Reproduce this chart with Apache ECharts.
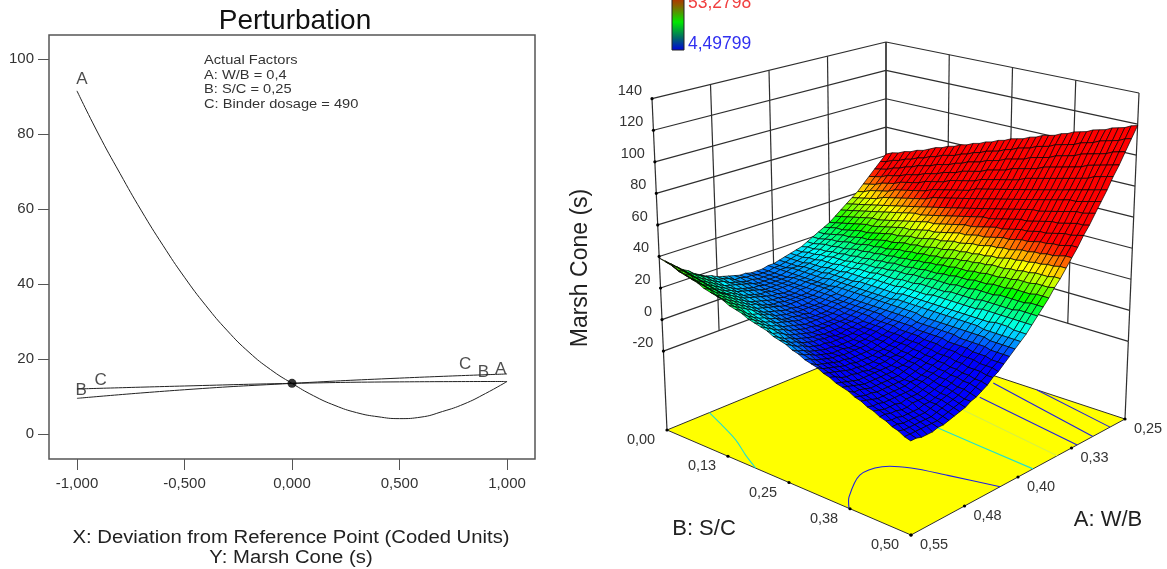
<!DOCTYPE html>
<html><head><meta charset="utf-8"><style>html,body{margin:0;background:#fff}#c{width:1167px;height:569px}</style>
<script src="https://cdn.jsdelivr.net/npm/echarts@6/dist/echarts.min.js"></script></head><body><div id="c"></div><script>
// ---------- left panel: perturbation curves ----------
const deviationA=[-1,-.9,-.8,-.7,-.6,-.5,-.4,-.3,-.2,-.1,0,.1,.2,.3,.4,.5,.6,.7,.8,.9,1];
const coneA=[91.5,80,69.5,59.5,50.3,41.8,34.2,27.5,21.8,17.2,13.5,10.2,7.6,5.7,4.6,4.1,4.5,6,8,10.8,14];
const deviationBC=[-1,-.5,0,.5,1];
const coneB=[12,12.8,13.5,13.9,14];
const coneC=[9.5,11.8,13.5,14.9,16];
const referencePoint=[0,13.5];
const curveLabels=[[-.977,94.7,'A'],[.97,17.3,'A'],[-.98,11.7,'B'],[.89,16.5,'B'],[-.89,14.4,'C'],[.805,18.7,'C']];
const xTicks=[-1,-.5,0,.5,1];
const yTicks=[0,20,40,60,80,100];
const factorLines=['Actual Factors','A: W/B = 0,4','B: S/C = 0,25','C: Binder dosage = 490'];
// ---------- right panel: response surface ----------
const wbTicks=[.25,.325,.4,.475,.55];
const wbTickLabels=['0,25','0,33','0,40','0,48','0,55'];
const scTicks=[0,.125,.25,.375,.5];
const scTickLabels=['0,00','0,13','0,25','0,38','0,50'];
const coneTicks=[-20,0,20,40,60,80,100,120,140];
const floorLevel=-70;
const colorMin=4.49799, colorMax=53.2798;
// columns: W/B .25 to .55 in 40 steps; rows: S/C 0 to .5 in 40 steps
const surfaceRows=[
[61,57,53,49,45,41,38,35,32,29,26,24,22,20,18,16,15,14,13,12,11,11,10,10,10,11,11,12,13,14,15,17,18,20,22,25,27,30,33,36,39],
[63,58,54,50,46,42,39,36,33,30,27,25,22,20,18,17,15,14,13,12,11,11,10,10,10,11,11,12,12,14,15,16,18,20,22,24,26,29,32,35,38],
[64,60,55,51,47,44,40,37,34,31,28,26,23,21,19,17,16,14,13,12,11,11,10,10,10,10,11,11,12,13,14,16,17,19,21,23,25,28,31,33,37],
[66,61,57,53,49,45,41,38,35,32,29,26,24,22,20,18,16,15,13,12,12,11,10,10,10,10,10,11,12,13,14,15,16,18,20,22,24,27,30,32,35],
[67,63,58,54,50,46,42,39,36,33,30,27,25,22,20,18,17,15,14,13,12,11,10,10,10,10,10,11,11,12,13,14,16,17,19,21,23,26,28,31,34],
[69,64,60,55,51,47,44,40,37,34,31,28,25,23,21,19,17,16,14,13,12,11,11,10,10,10,10,10,11,12,13,14,15,17,18,20,22,25,27,30,33],
[70,66,61,57,53,49,45,41,38,35,32,29,26,24,21,19,18,16,14,13,12,11,11,10,10,10,10,10,11,11,12,13,14,16,18,19,21,24,26,29,32],
[72,67,63,58,54,50,46,42,39,35,32,29,27,24,22,20,18,16,15,13,12,11,11,10,10,9,9,10,10,11,12,13,14,15,17,19,21,23,25,28,30],
[74,69,64,59,55,51,47,43,40,36,33,30,27,25,23,20,18,17,15,14,12,11,11,10,10,9,9,9,10,10,11,12,13,14,16,18,20,22,24,26,29],
[75,70,65,61,56,52,48,44,41,37,34,31,28,26,23,21,19,17,15,14,13,11,11,10,9,9,9,9,9,10,10,11,12,14,15,17,19,21,23,25,28],
[77,72,67,62,58,53,49,45,42,38,35,32,29,26,24,21,19,17,16,14,13,11,11,10,9,9,9,9,9,9,10,11,12,13,14,16,18,20,22,24,27],
[78,73,68,63,59,54,50,46,43,39,36,33,30,27,24,22,20,18,16,14,13,12,11,10,9,9,8,8,8,9,9,10,11,12,13,15,17,19,21,23,25],
[80,74,69,65,60,56,51,47,44,40,37,33,30,27,25,22,20,18,16,14,13,12,10,10,9,8,8,8,8,8,9,9,10,11,13,14,16,17,19,22,24],
[81,76,71,66,61,57,53,48,44,41,37,34,31,28,25,23,20,18,16,15,13,12,10,9,9,8,8,8,7,8,8,9,9,10,12,13,15,16,18,20,23],
[83,77,72,67,63,58,54,49,45,42,38,35,32,29,26,23,21,19,17,15,13,12,10,9,9,8,7,7,7,7,8,8,9,10,11,12,14,15,17,19,21],
[84,79,74,69,64,59,55,50,46,43,39,35,32,29,26,24,21,19,17,15,13,12,10,9,8,8,7,7,7,7,7,7,8,9,10,11,13,14,16,18,20],
[86,80,75,70,65,60,56,51,47,43,40,36,33,30,27,24,22,19,17,15,13,12,10,9,8,7,7,6,6,6,6,7,7,8,9,10,12,13,15,17,19],
[87,82,76,71,66,61,57,52,48,44,40,37,33,30,27,24,22,19,17,15,13,12,10,9,8,7,6,6,6,6,6,6,6,7,8,9,10,12,14,15,18],
[89,83,78,72,67,62,58,53,49,45,41,38,34,31,28,25,22,20,17,15,13,12,10,9,8,7,6,6,5,5,5,5,6,6,7,8,9,11,12,14,16],
[90,84,79,74,69,64,59,54,50,46,42,38,35,31,28,25,23,20,18,15,13,12,10,9,8,6,6,5,5,4,4,5,5,6,6,7,8,10,11,13,15],
[92,86,80,75,70,65,60,55,51,47,43,39,35,32,29,26,23,20,18,16,14,12,10,9,7,6,5,5,4,4,4,4,4,5,5,6,7,9,10,12,14],
[93,87,82,76,71,66,61,56,52,48,44,40,36,32,29,26,23,21,18,16,14,12,10,8,7,6,5,4,4,3,3,3,3,4,4,5,6,7,9,10,12],
[94,89,83,77,72,67,62,57,53,48,44,40,37,33,30,26,24,21,18,16,14,12,10,8,7,6,5,4,3,3,2,2,3,3,3,4,5,6,8,9,11],
[96,90,84,79,73,68,63,58,54,49,45,41,37,34,30,27,24,21,18,16,14,12,10,8,7,5,4,3,3,2,2,2,2,2,3,3,4,5,6,8,9],
[97,91,85,80,74,69,64,59,54,50,46,42,38,34,31,27,24,21,19,16,14,12,10,8,6,5,4,3,2,1,1,1,1,1,2,2,3,4,5,6,8],
[99,93,87,81,75,70,65,60,55,51,46,42,38,35,31,28,24,21,19,16,14,11,9,8,6,5,3,2,1,1,0,0,0,0,1,1,2,3,4,5,7],
[100,94,88,82,77,71,66,61,56,52,47,43,39,35,31,28,25,22,19,16,14,11,9,7,6,4,3,2,1,0,0,-1,-1,-1,0,0,1,2,3,4,5],
[101,95,89,83,78,72,67,62,57,52,48,44,39,36,32,28,25,22,19,16,14,11,9,7,6,4,3,1,0,0,-1,-1,-2,-2,-1,-1,0,0,1,3,4],
[103,97,90,85,79,73,68,63,58,53,49,44,40,36,32,29,25,22,19,16,14,11,9,7,5,4,2,1,0,-1,-2,-2,-2,-2,-2,-2,-2,-1,0,1,2],
[104,98,92,86,80,74,69,64,59,54,49,45,40,37,33,29,26,22,19,16,14,11,9,7,5,3,2,0,-1,-2,-2,-3,-3,-3,-3,-3,-3,-2,-1,0,1],
[106,99,93,87,81,75,70,65,59,55,50,45,41,37,33,29,26,22,19,16,14,11,9,7,5,3,1,0,-1,-2,-3,-4,-4,-4,-4,-4,-4,-3,-2,-2,0],
[107,100,94,88,82,76,71,65,60,55,51,46,42,37,33,30,26,23,19,16,14,11,9,6,4,2,1,-1,-2,-3,-4,-5,-5,-5,-5,-5,-5,-4,-4,-3,-2],
[108,102,95,89,83,77,72,66,61,56,51,47,42,38,34,30,26,23,20,16,14,11,8,6,4,2,0,-1,-3,-4,-5,-5,-6,-6,-6,-6,-6,-6,-5,-4,-3],
[110,103,97,90,84,78,73,67,62,57,52,47,43,38,34,30,27,23,20,16,14,11,8,6,4,2,0,-2,-3,-4,-5,-6,-7,-7,-7,-7,-7,-7,-6,-6,-5],
[111,104,98,91,85,79,74,68,63,57,53,48,43,39,35,31,27,23,20,16,13,11,8,6,3,1,-1,-2,-4,-5,-6,-7,-8,-8,-8,-9,-8,-8,-8,-7,-6],
[112,106,99,93,86,80,75,69,63,58,53,48,44,39,35,31,27,23,20,17,13,11,8,5,3,1,-1,-3,-4,-6,-7,-8,-9,-9,-9,-10,-10,-9,-9,-8,-8],
[114,107,100,94,87,81,75,70,64,59,54,49,44,40,35,31,27,23,20,17,13,10,8,5,3,0,-2,-3,-5,-6,-8,-9,-10,-10,-11,-11,-11,-11,-10,-10,-9],
[115,108,101,95,89,82,76,71,65,60,54,49,45,40,36,31,27,24,20,17,13,10,7,5,2,0,-2,-4,-6,-7,-8,-9,-10,-11,-12,-12,-12,-12,-12,-11,-11],
[116,109,103,96,90,83,77,71,66,60,55,50,45,40,36,32,28,24,20,16,13,10,7,4,2,0,-3,-4,-6,-8,-9,-10,-11,-12,-13,-13,-13,-13,-13,-13,-12],
[118,111,104,97,91,84,78,72,66,61,56,51,46,41,36,32,28,24,20,16,13,10,7,4,2,-1,-3,-5,-7,-9,-10,-11,-12,-13,-14,-14,-14,-14,-14,-14,-14],
[119,112,105,98,92,85,79,73,67,62,56,51,46,41,37,32,28,24,20,16,13,10,7,4,1,-1,-4,-6,-8,-9,-11,-12,-13,-14,-15,-15,-16,-16,-16,-15,-15]
];
// contour lines on the floor, as [W/B, S/C]
const contourCyanLeft=[[.492,0],[.503,.04],[.519,.095],[.536,.14],[.55,.182]];
const contourCyanRight=[[.379,.5],[.37,.285],[.362,.15]];
const contourPale=[[.345,.5],[.326,.276]];
const contourBlueFront=[[.55,.373],[.533,.348],[.493,.311],[.466,.317],[.45,.353],[.439,.4125],[.425,.5]];
const contourBlue1=[[.317,.5],[.295,.264]];
const contourBlue2=[[.295,.5],[.263,.244]];
const contourBlue3=[[.271,.5],[.25,.316]];

// box projection: trilinear coefficients for 1,u,v,w,uv,uw,vw (u: W/B, v: S/C, w: cone, each 0..1)
const BOX_X=[886,-219,239,0,5,-15,14];
const BOX_Y=[340,90,79,-298,26,-33.3,-28];
function project(a,b,z){const u=(a-.25)/.3,v=b/.5,w=(z-floorLevel)/210,t=[1,u,v,w,u*v,u*w,v*w];
  const dot=k=>k.reduce((s,c,i)=>s+c*t[i],0);return [dot(BOX_X),dot(BOX_Y)];}
const wbAt=i=>.25+i*.0075, scAt=j=>j*.0125;
const STOPS=[[0,0,255],[0,255,255],[0,255,0],[255,255,0],[255,0,0]];
function colorOf(z){let t=(z-colorMin)/(colorMax-colorMin);t=Math.max(0,Math.min(1,t))*4;const k=Math.min(3,Math.floor(t)),f=t-k;
  const c=STOPS[k].map((v,n)=>Math.round(v+(STOPS[k+1][n]-v)*f));return 'rgb('+c.join(',')+')';}

const fmt=v=>v.toFixed(3).replace('.',',');
const LINE='#2e2e2e', TXT='#333', FONT='Liberation Sans';
const S3={type:'custom',coordinateSystem:'cartesian2d',xAxisIndex:1,yAxisIndex:1,silent:true,clip:false,progressive:0,animation:false};
const wall=[];
coneTicks.forEach(z=>{wall.push([.55,0,z,.25,0,z],[.25,0,z,.25,.5,z]);});
wbTicks.forEach(a=>wall.push([a,0,-20,a,0,140]));
scTicks.forEach(b=>wall.push([.25,b,-20,.25,b,140]));
wall.push([.55,0,floorLevel,.55,0,-20],[.25,.5,floorLevel,.25,.5,-20]);
const floorEdges=[[.55,0,floorLevel,.55,.5,floorLevel],[.55,.5,floorLevel,.25,.5,floorLevel],[.25,.5,floorLevel,.25,0,floorLevel],[.25,0,floorLevel,.55,0,floorLevel]];
function segSeries(data,z,stroke,w){return Object.assign({},S3,{z,data,renderItem:(p,api)=>{
  const q1=api.coord(project(api.value(0),api.value(1),api.value(2))),q2=api.coord(project(api.value(3),api.value(4),api.value(5)));
  return {type:'line',shape:{x1:q1[0],y1:q1[1],x2:q2[0],y2:q2[1]},style:{stroke,lineWidth:w}};}});}
function contourSeries(pts,stroke){return Object.assign({},S3,{z:3,data:pts,renderItem:(p,api)=>{
  if(p.dataIndex!==0)return null;
  const points=pts.map(v=>api.coord(project(v[0],v[1],floorLevel)));
  return {type:'polyline',shape:{points,smooth:.3},style:{stroke,lineWidth:1.1,fill:'none'}};}});}
const cells=[];for(let i=0;i<40;i++)for(let j=0;j<40;j++)cells.push([i,j]);
const surface=Object.assign({},S3,{z:4,data:cells,renderItem:(p,api)=>{
  const i=api.value(0),j=api.value(1),idx=[[i,j],[i+1,j],[i+1,j+1],[i,j+1]];
  const zs=idx.map(c=>surfaceRows[c[1]][c[0]]);
  const points=idx.map((c,n)=>api.coord(project(wbAt(c[0]),scAt(c[1]),zs[n])));
  return {type:'polygon',shape:{points},style:{fill:colorOf((zs[0]+zs[1]+zs[2]+zs[3])/4),stroke:'#000',lineWidth:.7}};}});
const floorPoly=Object.assign({},S3,{z:2,data:[[0]],renderItem:(p,api)=>({type:'polygon',shape:{points:[[.55,0],[.55,.5],[.25,.5],[.25,0]].map(v=>api.coord(project(v[0],v[1],floorLevel)))},style:{fill:'#ffff00'}})});
const dots=[];coneTicks.forEach(z=>dots.push([.55,0,z]));scTicks.forEach(b=>dots.push([.55,b,floorLevel]));wbTicks.forEach(a=>dots.push([a,.5,floorLevel]));
const dotSeries=Object.assign({},S3,{z:5,data:dots,renderItem:(p,api)=>{const q=api.coord(project(api.value(0),api.value(1),api.value(2)));
  return {type:'circle',shape:{cx:q[0],cy:q[1],r:1.6},style:{fill:'#000'}};}});
function labelSeries(items,font,align){return Object.assign({},S3,{z:6,data:items.map((t,i)=>[i]),renderItem:(p,api)=>{
  const it=items[api.value(0)],q=api.coord(project(it[0],it[1],it[2]));
  return {type:'text',x:q[0]+it[4],y:q[1]+it[5],style:{text:it[3],font:font,fill:TXT,textAlign:align,textVerticalAlign:'middle'}};}});}
const zLab=coneTicks.map(z=>[.55,0,z,String(z),-10,-8]);
const bLab=scTicks.map((b,i)=>[.55,b,floorLevel,scTickLabels[i],-26,10]);
const aLab=wbTicks.map((a,i)=>[a,.5,floorLevel,wbTickLabels[i],23,10]);

const chart=echarts.init(document.getElementById('c'));
chart.setOption({animation:false,backgroundColor:'#fff',
 title:{text:'Perturbation',left:290,top:2,textAlign:'center',textStyle:{fontFamily:FONT,fontSize:28,fontWeight:'normal',color:'#111'}},
 grid:[{left:49,top:35,width:486,height:424,show:true,borderColor:'#555',borderWidth:1.5,backgroundColor:'#fff'},{left:0,top:0,width:1167,height:569,show:false}],
 xAxis:[{type:'value',gridIndex:0,min:-1.13,max:1.13,
   axisLine:{show:false,onZero:false},splitLine:{show:false},
   axisTick:{show:true,length:11,customValues:xTicks,lineStyle:{color:'#555',width:1}},
   axisLabel:{customValues:xTicks,formatter:fmt,margin:17,fontFamily:FONT,fontSize:15,color:TXT}},
  {type:'value',gridIndex:1,min:0,max:1167,show:false}],
 yAxis:[{type:'value',gridIndex:0,min:-6.67,max:106.4,
   axisLine:{show:false,onZero:false},splitLine:{show:false},
   axisTick:{show:true,length:11,customValues:yTicks,lineStyle:{color:'#555',width:1}},
   axisLabel:{customValues:yTicks,margin:15,fontFamily:FONT,fontSize:15,color:TXT}},
  {type:'value',gridIndex:1,min:0,max:569,inverse:true,show:false}],
 graphic:[
  {type:'text',x:204,y:53,scaleX:1.085,style:{text:factorLines.join('\n'),font:'13.5px '+FONT,fill:TXT,lineHeight:14.7}},
  {type:'text',x:291,y:548,scaleX:1.126,style:{text:'X: Deviation from Reference Point (Coded Units)\nY: Marsh Cone (s)',font:'18px '+FONT,fill:'#222',lineHeight:20,textAlign:'center',textVerticalAlign:'middle'}},
  {type:'text',x:581,y:268,rotation:Math.PI/2,style:{text:'Marsh Cone (s)',font:'23px '+FONT,fill:'#222',textAlign:'center',textVerticalAlign:'middle'}},
  {type:'text',x:704,y:529,style:{text:'B: S/C',font:'22px '+FONT,fill:'#222',textAlign:'center',textVerticalAlign:'middle'}},
  {type:'text',x:1108,y:520,style:{text:'A: W/B',font:'22px '+FONT,fill:'#222',textAlign:'center',textVerticalAlign:'middle'}},
  {type:'rect',shape:{x:672,y:-6,width:12,height:56},style:{stroke:'#222',lineWidth:1,fill:{type:'linear',x:0,y:0,x2:0,y2:1,colorStops:[{offset:0,color:'#d01000'},{offset:.2,color:'#8f5a00'},{offset:.5,color:'#00e800'},{offset:.78,color:'#006868'},{offset:1,color:'#0000e0'}]}}},
  {type:'text',x:688,y:3,style:{text:'53,2798',font:'17.5px '+FONT,fill:'#f04040',textVerticalAlign:'middle'}},
  {type:'text',x:688,y:44,style:{text:'4,49799',font:'17.5px '+FONT,fill:'#3030f0',textVerticalAlign:'middle'}}
 ],
 series:[
  {type:'line',name:'A',xAxisIndex:0,yAxisIndex:0,data:deviationA.map((x,i)=>[x,coneA[i]]),smooth:true,showSymbol:false,lineStyle:{color:'#222',width:1}},
  {type:'line',name:'B',xAxisIndex:0,yAxisIndex:0,data:deviationBC.map((x,i)=>[x,coneB[i]]),smooth:true,showSymbol:false,lineStyle:{color:'#222',width:1}},
  {type:'line',name:'C',xAxisIndex:0,yAxisIndex:0,data:deviationBC.map((x,i)=>[x,coneC[i]]),smooth:true,showSymbol:false,lineStyle:{color:'#222',width:1}},
  {type:'scatter',xAxisIndex:0,yAxisIndex:0,data:[referencePoint],symbolSize:9,itemStyle:{color:'#000'},z:5},
  {type:'scatter',xAxisIndex:0,yAxisIndex:0,data:curveLabels,symbolSize:0,z:6,label:{show:true,position:'inside',formatter:p=>p.value[2],fontFamily:FONT,fontSize:17,color:'#222'}},
  segSeries(wall,1,LINE,1.2),floorPoly,segSeries(floorEdges,2.5,LINE,1),
  contourSeries(contourCyanLeft,'#20e0d0'),contourSeries(contourCyanRight,'#20e0d0'),contourSeries(contourPale,'#d8f040'),
  contourSeries(contourBlueFront,'#2020e0'),contourSeries(contourBlue1,'#2020e0'),contourSeries(contourBlue2,'#2020e0'),contourSeries(contourBlue3,'#2020e0'),
  surface,dotSeries,labelSeries(zLab,'14.5px '+FONT,'right'),labelSeries(bLab,'14.5px '+FONT,'center'),labelSeries(aLab,'14.5px '+FONT,'center')
 ]});
</script></body></html>
